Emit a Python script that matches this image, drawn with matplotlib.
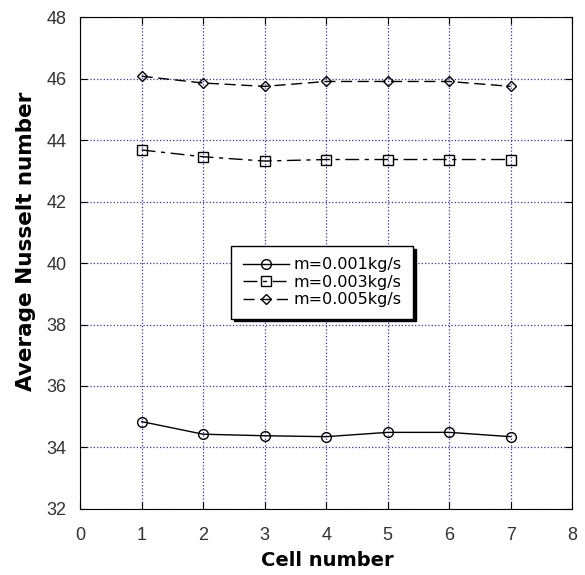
import numpy as np
import matplotlib
matplotlib.use('Agg')
import matplotlib.pyplot as plt

plt.rcParams['font.family'] = ['Liberation Sans', 'DejaVu Sans']

# Data
cells = [1, 2, 3, 4, 5, 6, 7]
nu_001 = [34.84, 34.43, 34.38, 34.35, 34.49, 34.49, 34.35]
nu_003 = [43.68, 43.46, 43.32, 43.37, 43.37, 43.37, 43.37]
nu_005 = [46.08, 45.86, 45.75, 45.91, 45.91, 45.91, 45.75]
labels = ['m=0.001kg/s', 'm=0.003kg/s', 'm=0.005kg/s']

fig = plt.figure(figsize=(5.85, 5.75), dpi=100)
ax = fig.add_axes([0.137, 0.115, 0.841, 0.855])

ax.plot(cells, nu_001, color='black', linewidth=1, linestyle='-',
        marker='o', markersize=7, markerfacecolor='none', markeredgecolor='black',
        label=labels[0])
ax.plot(cells, nu_003, color='black', linewidth=1, linestyle=(0, (10, 4, 3, 4)),
        marker='s', markersize=7, markerfacecolor='none', markeredgecolor='black',
        label=labels[1])
ax.plot(cells, nu_005, color='black', linewidth=1, linestyle=(0, (8, 4)),
        marker='D', markersize=5, markerfacecolor='none', markeredgecolor='black',
        label=labels[2])

ax.set_xlim(0, 8)
ax.set_ylim(32, 48)
ax.set_xticks(range(0, 9))
ax.set_yticks(range(32, 49, 2))
ax.grid(True, color='#3333aa', linestyle=':', linewidth=0.9)
ax.tick_params(direction='in', length=5, top=True, right=True,
               labelsize=13, labelcolor='#333333')
ax.tick_params(axis='x', pad=13)
ax.tick_params(axis='y', pad=10)

# the reference uses a wide bold face, DejaVu Sans Bold is closest
ax.set_xlabel('Cell number', fontsize=14, fontweight='bold', family='DejaVu Sans')
ax.xaxis.set_label_coords(0.503, -0.085)
ax.set_ylabel('Average Nusselt number', fontsize=15.5, fontweight='bold',
              family='DejaVu Sans')
ax.yaxis.set_label_coords(-0.089, 0.545)

leg = ax.legend(loc='center', bbox_to_anchor=(0.492, 0.461),
                prop={'family': 'DejaVu Sans', 'size': 11.5},
                frameon=True, fancybox=False, shadow={'color': 'black', 'alpha': 1},
                edgecolor='black', framealpha=1, handlelength=2.9,
                borderpad=0.72, labelspacing=0.15, handletextpad=0.3,
                borderaxespad=0)
leg.get_frame().set_linewidth(1)

fig.savefig('out.png', dpi=100)
